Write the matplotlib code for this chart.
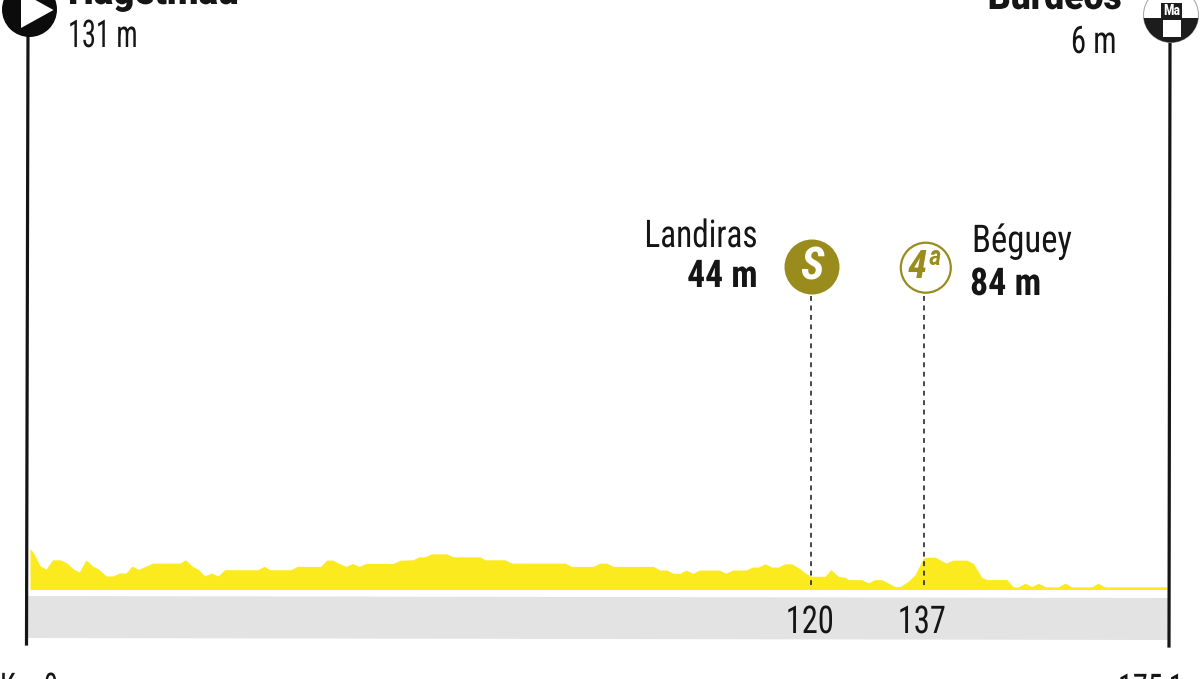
import matplotlib
matplotlib.use("Agg")
import matplotlib.pyplot as plt
from matplotlib.patches import Circle, Rectangle, Polygon
from matplotlib.patheffects import AbstractPathEffect
from matplotlib.transforms import Affine2D

plt.rcParams["font.family"] = ["Roboto Condensed", "DejaVu Sans"]

# profile
km = [0.46, 0.97, 1.99, 2.91, 3.93, 5.05, 6.07, 7.10, 8.01, 9.04, 10.06, 10.97, 12.10, 13.12,
      14.14, 15.16, 16.08, 17.10, 18.22, 19.24, 23.43, 24.25, 25.27, 26.29, 27.21, 28.23, 29.25,
      30.27, 35.37, 36.29, 37.21, 40.38, 41.40, 44.97, 45.89, 46.81, 47.83, 48.85, 49.87, 50.89,
      51.91, 56.10, 57.12, 59.16, 59.93, 60.95, 61.97, 64.27, 65.29, 69.37, 70.14, 73.20, 74.22,
      82.39, 83.41, 86.73, 87.75, 88.77, 89.79, 95.92, 96.94, 97.96, 98.98, 100.0, 100.92, 101.94,
      102.96, 106.02, 107.04, 108.06, 110.11, 111.13, 112.0, 113.02, 114.04, 115.06, 116.08, 117.10,
      118.38, 119.15, 120.1, 122.2, 123.1, 124.25, 125.27, 125.78, 127.82, 128.84, 129.87, 130.89,
      132.93, 133.69, 134.97, 135.99, 137.27, 138.03, 139.05, 140.74, 141.76, 143.9, 144.92, 146.2,
      146.97, 150.03, 151.05, 151.82, 152.84, 153.86, 154.88, 156.0, 157.94, 158.96, 159.98, 163.05,
      163.97, 165.09, 174.53]
elev = [124, 112, 72, 62, 90, 90, 81, 62, 53, 90, 71, 62, 41, 41,
        50, 50, 71, 61, 71, 80, 80, 90, 71, 60, 41, 50, 41,
        60, 60, 70, 60, 60, 70, 70, 89, 89, 79, 70, 79, 70,
        79, 79, 89, 90, 99, 99, 108, 108, 99, 99, 90, 90, 80,
        80, 70, 70, 80, 80, 70, 70, 59, 59, 49, 49, 59, 49,
        59, 59, 49, 59, 59, 68, 68, 78, 68, 68, 78, 78,
        63, 50, 40, 40, 60, 40, 37, 30, 30, 20, 30, 30,
        9, 9, 25, 45, 95, 98, 98, 80, 89, 89, 79, 37,
        30, 30, 8, 8, 19, 9, 19, 8, 8, 19, 8, 8,
        19, 8, 8]

point_labels = ["120", "137"]
total_km = 175
YELLOW = "#fbea1e"
GREY = "#e3e3e3"
OLIVE = "#9a8c1c"
INK = "#151515"


class Squeeze(AbstractPathEffect):
    # the reference face is narrower than Roboto Condensed
    def __init__(self, k, ha):
        self.k = k
        self.ha = ha

    def draw_path(self, renderer, gc, tpath, affine, rgbFace=None):
        share = {"left": 0, "center": 0.5, "right": 1}[self.ha]
        shift = share * (1 - self.k) * tpath.get_extents().x1
        new = Affine2D().scale(self.k, 1).translate(shift, 0) + affine
        renderer.draw_path(gc, tpath, new, rgbFace)


fig = plt.figure(figsize=(12, 6.79), dpi=100)

# data axes: 6.53 px per km, 0.33 px per metre
ax = fig.add_axes([0, 0, 1, 1])
ax.set_xlim(-27 / 6.53, (1200 - 27) / 6.53)
ax.set_ylim((589.5 - 679) / 0.33, 589.5 / 0.33)
ax.axis("off")
ax.fill_between(km, elev, 0, color=YELLOW, lw=0)

# overlay in pixels for the decoration
px = fig.add_axes([0, 0, 1, 1])
px.set_xlim(0, 1200)
px.set_ylim(679, 0)
px.axis("off")
px.patch.set_alpha(0)

px.add_patch(Polygon([(27, 596), (1168, 598), (1168, 640), (27, 638)], color=GREY, lw=0, zorder=1))
px.plot([28, 26.5], [30, 644], color=INK, lw=2.3, zorder=3)
px.plot([1170, 1169], [40, 646], color=INK, lw=2.3, zorder=3)

# dashed markers
for x in [811, 924]:
    px.plot([x, x], [296, 589], color=INK, lw=1.1, dashes=(3.2, 3.0), zorder=4)

# start icon
px.add_patch(Circle((29.5, 9.5), 27.5, color="#0c0c0c", lw=0, zorder=5))
px.add_patch(Polygon([(21, 28), (53.5, 10), (21, -8)], color="white", lw=0, zorder=6))

# finish icon
edge = Circle((1171, 15), 27.5, fc="white", ec="#aaaaaa", lw=0.8, zorder=5)
px.add_patch(edge)
for rect, col in [((1143, 17.5, 56, 26), "#1c1c1c"), ((1161, 3, 21, 15), "#1c1c1c"), ((1163, 20, 18, 17), "white")]:
    r = Rectangle(rect[:2], rect[2], rect[3], color=col, lw=0, zorder=6)
    px.add_patch(r)
    r.set_clip_path(edge)
px.text(1171.5, 11, "Ma", color="white", fontsize=10, fontweight="bold", ha="center", va="center", zorder=7)

# climb icons
px.add_patch(Circle((812, 267), 27.5, color=OLIVE, lw=0, zorder=5))
px.text(812, 268, "S", color="white", fontsize=32, fontweight="bold", style="italic", ha="center", va="center", zorder=6)
px.add_patch(Circle((925.8, 267.7), 25, fc="white", ec=OLIVE, lw=1.6, zorder=5))
px.text(925, 268, "4ª", color=OLIVE, fontsize=28, fontweight="bold", style="italic", ha="center", va="center", zorder=6)


# text, baseline anchored
def label(x, y, s, size=27.5, weight="normal", ha="left", k=0.85, family=None):
    px.text(x, y, s, fontsize=size, fontweight=weight, ha=ha, va="baseline", color=INK, zorder=8,
            clip_on=False, family=family, path_effects=[Squeeze(k, ha)])


label(68, 4, "Hagetmau", weight=900, k=0.96, family="Roboto")
label(68, 47, "131 m", k=0.74)
label(1122, 9, "Burdeos", weight=900, k=0.93, family="Roboto", ha="right")
label(1117, 53, "6 m", ha="right", k=0.81)
label(758, 247, "Landiras", ha="right", k=0.87)
label(758, 287, "44 m", weight="bold", ha="right", k=0.93)
label(972, 252, "Béguey", k=0.91)
label(970, 295, "84 m", weight="bold", k=0.94)
for x, s in zip([810, 922], point_labels):
    label(x, 633, s, ha="center")
label(0, 700, "Km 0", k=0.75)
label(1185, 701, f"{total_km},1", ha="right", k=0.79)

fig.savefig("out.png", dpi=100)
